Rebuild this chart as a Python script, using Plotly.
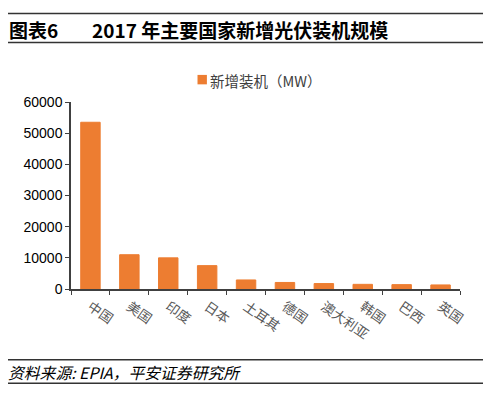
import plotly.graph_objects as go

countries = ["中国", "美国", "印度", "日本", "土耳其", "德国", "澳大利亚", "韩国", "巴西", "英国"]
new_capacity_mw = [53500, 11000, 10000, 7500, 2900, 2100, 1750, 1500, 1400, 1300]
y_ticks = [0, 10000, 20000, 30000, 40000, 50000, 60000]
series_name = "新增装机（MW）"

OFF = 8  # default body margin of the html page
W, H = 491 - OFF, 394 - OFF
L, R = 70.7 - OFF, 460.0 - OFF
T, B = 102.3 - OFF, 288.7 - OFF

def px(x):
    return (x - OFF - L) / (R - L)

def py(y):
    return (B - (y - OFF)) / (B - T)

FONT = "Liberation Sans, Arial, Noto Sans CJK SC, sans-serif"
CJK = "Noto Sans CJK SC, Liberation Sans, sans-serif"
ORANGE = "#ED7D31"

fig = go.Figure()
fig.add_trace(go.Bar(
    x=countries, y=new_capacity_mw, name=series_name,
    marker=dict(color=ORANGE, line=dict(color=ORANGE, width=1)),
    showlegend=False,
))

fig.update_layout(
    width=W, height=H,
    margin=dict(l=L, r=W - R, t=T, b=H - B, pad=0),
    paper_bgcolor="white", plot_bgcolor="white",
    bargap=0.5,
    xaxis=dict(
        showline=True, linecolor="#404040", linewidth=1.5,
        ticks="outside", tickson="boundaries", ticklen=4, tickcolor="#404040",
        tickangle=35, ticklabelstandoff=3,
        tickfont=dict(family=CJK, size=13.5, color="#595959"),
        showgrid=False, fixedrange=True,
    ),
    yaxis=dict(
        range=[0, 60000], tickvals=y_ticks, ticktext=[str(v) for v in y_ticks],
        showline=True, linecolor="#404040", linewidth=1.5,
        ticks="outside", ticklen=4, tickcolor="#404040",
        tickfont=dict(family=FONT, size=14, color="#000000"),
        showgrid=False, zeroline=False, fixedrange=True,
    ),
)

# legend (square + label)
fig.add_shape(type="rect", xref="paper", yref="paper",
              x0=px(197.3), x1=px(206.7), y0=py(75.3), y1=py(84.7),
              fillcolor=ORANGE, line=dict(width=0))
fig.add_annotation(xref="paper", yref="paper", x=px(208), y=py(80.5), xanchor="left", yanchor="middle",
                   text=series_name, showarrow=False,
                   font=dict(family=CJK, size=14.5, color="#404040"))

# header / footer rules
for yy in [14, 43, 359.3, 382.7]:
    fig.add_shape(type="line", xref="paper", yref="paper",
                  x0=px(3), x1=px(487), y0=py(yy), y1=py(yy),
                  line=dict(color="#333333", width=1.5))

fig.add_annotation(xref="paper", yref="paper", x=px(7), y=py(30), xanchor="left", yanchor="middle",
                   text="<b>图表6</b>", showarrow=False,
                   font=dict(family=CJK, size=19, color="#000000"))
fig.add_annotation(xref="paper", yref="paper", x=px(90), y=py(30), xanchor="left", yanchor="middle",
                   text="<b>2017 年主要国家新增光伏装机规模</b>", showarrow=False,
                   font=dict(family=CJK, size=19, color="#000000"))
fig.add_annotation(xref="paper", yref="paper", x=px(6), y=py(371.5), xanchor="left", yanchor="middle",
                   text="<i>资料来源: EPIA，平安证券研究所</i>", showarrow=False,
                   font=dict(family=CJK, size=15.8, color="#000000"))

fig.write_html("out.html")
